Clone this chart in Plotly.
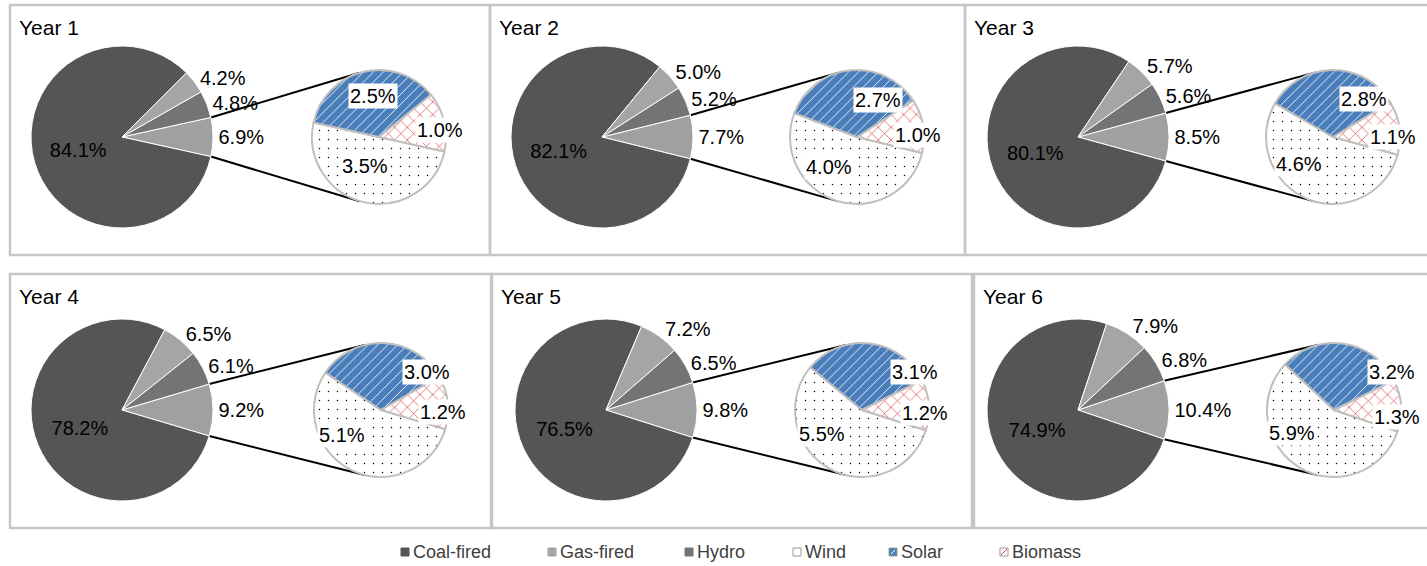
import math
import plotly.graph_objects as go

# ---------------- data ----------------
years = ["Year 1", "Year 2", "Year 3", "Year 4", "Year 5", "Year 6"]
coal = [84.1, 82.1, 80.1, 78.2, 76.5, 74.9]
gas = [4.2, 5.0, 5.7, 6.5, 7.2, 7.9]
hydro = [4.8, 5.2, 5.6, 6.1, 6.5, 6.8]
other = [6.9, 7.7, 8.5, 9.2, 9.8, 10.4]      # aggregated wind+solar+biomass slice in the main pie
wind = [3.5, 4.0, 4.6, 5.1, 5.5, 5.9]
solar = [2.5, 2.7, 2.8, 3.0, 3.1, 3.2]
biomass = [1.0, 1.0, 1.1, 1.2, 1.2, 1.3]
legend_labels = ["Coal-fired", "Gas-fired", "Hydro", "Wind", "Solar", "Biomass"]

# ---------------- layout / style ----------------
W, H = 1427, 566
FONT = "Liberation Sans, Arial, sans-serif"
C_COAL, C_GAS, C_HYDRO, C_OTHER = "#555555", "#a5a5a5", "#747474", "#a0a0a0"
C_SOLAR, C_BIO = "#4a7ebb", "#d83c3c"
BORDER = "#c6c6c6"

panels = [(10, 5, 490, 255), (490, 5, 965, 255), (965, 5, 1445, 255),
          (10, 274, 491, 528), (492, 274, 972, 528), (974, 274, 1445, 528)]
main_c = [(122, 137), (602, 137), (1078, 137), (122, 410), (606, 410), (1078, 410)]
sec_c = [(379, 137), (857, 137), (1333, 137), (381, 410), (862, 410), (1334, 410)]
R_MAIN, R_SEC = 91, 67
# label nudges (px from secondary-pie centre) for solar, biomass, wind labels
sec_lab = [
    [(-6, -41), (61, -7), (-14, 29)],
    [(21, -37), (61, -2), (-28, 30)],
    [(31, -38), (60, 0), (-34, 27)],
    [(46, -38), (62, 2), (-39, 25)],
    [(53, -38), (63, 3), (-40, 24)],
    [(58, -38), (63, 7), (-42, 23)],
]
leg_x = [401, 548, 685, 793, 889, 1000]
LEG_Y = 552


def px(x):
    return x / W


def py(y):
    return 1 - y / H


def domain(c, r):
    return dict(x=[px(c[0] - r), px(c[0] + r)], y=[py(c[1] + r), py(c[1] - r)])


fig = go.Figure()
shapes, annotations = [], []

for i in range(6):
    h_deg = other[i] * 3.6 / 2.0
    # main pie
    fig.add_trace(go.Pie(
        values=[other[i], coal[i], gas[i], hydro[i]],
        labels=["Other", "Coal-fired", "Gas-fired", "Hydro"],
        sort=False, direction="clockwise", rotation=90 - h_deg,
        domain=domain(main_c[i], R_MAIN),
        marker=dict(colors=[C_OTHER, C_COAL, C_GAS, C_HYDRO],
                    line=dict(color="#ffffff", width=1)),
        texttemplate="%{value:.1f}%",
        textposition=["outside", "inside", "outside", "outside"],
        insidetextorientation="horizontal",
        textfont=dict(family=FONT, size=20, color="#000000"),
        insidetextfont=dict(family=FONT, size=20, color="#000000"),
        outsidetextfont=dict(family=FONT, size=20, color="#000000"),
        showlegend=False, hoverinfo="skip",
    ))
    # secondary pie
    fig.add_trace(go.Pie(
        values=[wind[i], solar[i], biomass[i]],
        labels=["Wind", "Solar", "Biomass"],
        sort=False, direction="clockwise", rotation=90 + h_deg,
        domain=domain(sec_c[i], R_SEC),
        marker=dict(colors=["#ffffff", C_SOLAR, "#ffffff"],
                    line=dict(color="#bfbfbf", width=2),
                    pattern=dict(shape=[".", "/", "x"],
                                 fgcolor=["#000000", "#ffffff", C_BIO],
                                 bgcolor=["#ffffff", C_SOLAR, "#ffffff"],
                                 size=[9, 7, 9], solidity=[0.02, 0.12, 0.14],
                                 fillmode="replace")),
        textinfo="none",
        showlegend=False, hoverinfo="skip",
    ))
    # secondary labels with white boxes
    for v, (dx, dy) in zip([solar[i], biomass[i], wind[i]], sec_lab[i]):
        annotations.append(dict(
            x=px(sec_c[i][0] + dx), y=py(sec_c[i][1] + dy), xref="paper", yref="paper",
            xanchor="center", yanchor="middle",
            text=f"{v:.1f}%", showarrow=False, bgcolor="#ffffff", borderpad=1,
            font=dict(family=FONT, size=20, color="#000000")))
    # connector lines (tangent from main slice edges to secondary pie)
    h = math.radians(h_deg)
    cx, cy = main_c[i]
    sx, sy = sec_c[i]
    for sgn in (-1, 1):
        P = (cx + R_MAIN * math.cos(h), cy + sgn * R_MAIN * math.sin(h))
        dx, dy = P[0] - sx, P[1] - sy
        d = math.hypot(dx, dy)
        base = math.atan2(dy, dx)
        a = math.acos(R_SEC / d)
        cands = [(sx + R_SEC * math.cos(base + s * a), sy + R_SEC * math.sin(base + s * a)) for s in (-1, 1)]
        T = min(cands, key=lambda t: t[1]) if sgn < 0 else max(cands, key=lambda t: t[1])
        shapes.append(dict(type="line", xref="paper", yref="paper", layer="below",
                           x0=px(P[0]), y0=py(P[1]), x1=px(T[0]), y1=py(T[1]),
                           line=dict(color="#000000", width=2)))
    # panel border and title
    x0, y0, x1, y1 = panels[i]
    shapes.append(dict(type="rect", xref="paper", yref="paper", layer="below",
                       x0=px(x0), y0=py(y1), x1=px(x1), y1=py(y0),
                       line=dict(color=BORDER, width=2.5), fillcolor="rgba(0,0,0,0)"))
    annotations.append(dict(x=px(x0 + 7), y=py(y0 + 22), xref="paper", yref="paper",
                            xanchor="left", yanchor="middle", showarrow=False,
                            text=years[i], font=dict(family=FONT, size=21, color="#000000")))

# legend
leg_fill = [C_COAL, C_GAS, C_HYDRO, "#ffffff", C_SOLAR, "#ffffff"]
leg_line = [C_COAL, C_GAS, C_HYDRO, "#9a9a9a", "#9a9a9a", "#9a9a9a"]
for lab, x, fc, lc in zip(legend_labels, leg_x, leg_fill, leg_line):
    shapes.append(dict(type="rect", xref="paper", yref="paper",
                       x0=px(x), x1=px(x + 8), y0=py(LEG_Y + 4), y1=py(LEG_Y - 4),
                       fillcolor=fc, line=dict(color=lc, width=1)))
    if lab == "Solar":
        shapes.append(dict(type="line", xref="paper", yref="paper",
                           x0=px(x + 2), y0=py(LEG_Y + 2), x1=px(x + 6), y1=py(LEG_Y - 2),
                           line=dict(color="#ffffff", width=1)))
    if lab == "Biomass":
        shapes.append(dict(type="line", xref="paper", yref="paper",
                           x0=px(x + 1), y0=py(LEG_Y + 3), x1=px(x + 7), y1=py(LEG_Y - 3),
                           line=dict(color=C_BIO, width=1)))
    annotations.append(dict(x=px(x + 10), y=py(LEG_Y), xref="paper", yref="paper",
                            xanchor="left", yanchor="middle", showarrow=False, text=lab,
                            font=dict(family=FONT, size=18, color="#404040")))

fig.update_layout(width=W, height=H, margin=dict(l=0, r=0, t=0, b=0),
                  paper_bgcolor="#ffffff", plot_bgcolor="#ffffff",
                  shapes=shapes, annotations=annotations, showlegend=False)

fig.write_html("out.html", config={"displayModeBar": False},
               post_script="document.body.style.margin='0';")
